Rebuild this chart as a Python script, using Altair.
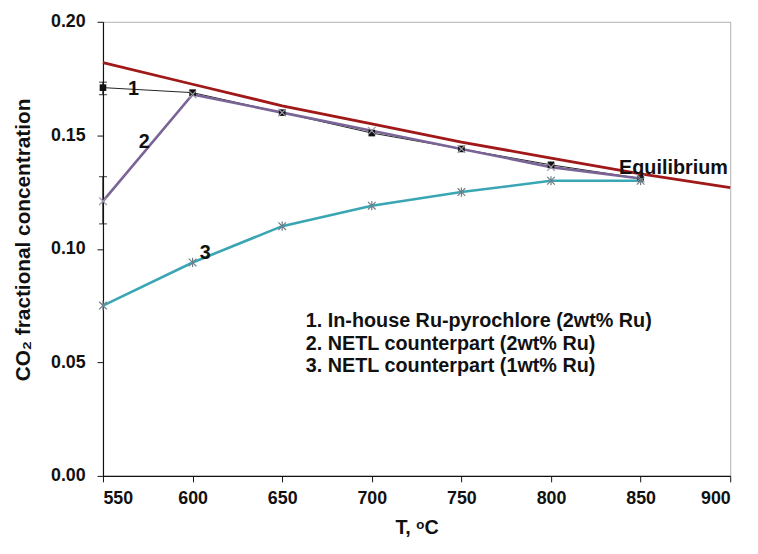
import altair as alt
import pandas as pd

temps = [550, 600, 650, 700, 750, 800, 850]
s1 = [0.171, 0.1688, 0.160, 0.151, 0.144, 0.137, 0.131]
s2 = [0.121, 0.168, 0.160, 0.152, 0.144, 0.136, 0.131]
s3 = [0.075, 0.094, 0.110, 0.119, 0.125, 0.130, 0.130]
eq_t = [550, 600, 650, 700, 750, 800, 850, 900]
eq_v = [0.182, 0.1725, 0.163, 0.155, 0.147, 0.140, 0.133, 0.127]
err_t = [550, 550]
err_lo = [0.1679, 0.111]
err_hi = [0.1734, 0.1318]
legend_lines = ["1. In-house Ru-pyrochlore (2wt% Ru)",
                "2. NETL counterpart (2wt% Ru)",
                "3. NETL counterpart (1wt% Ru)"]
ann_text = ["1", "2", "3", "Equilibrium"]
ann_t = [564, 570, 604, 838]
ann_v = [0.1705, 0.147, 0.098, 0.1355]

FONT = "Liberation Sans, Arial"

d1 = pd.DataFrame({"T": temps, "v": s1})
d2 = pd.DataFrame({"T": temps, "v": s2})
d3 = pd.DataFrame({"T": temps, "v": s3})
deq = pd.DataFrame({"T": eq_t, "v": eq_v})
derr = pd.DataFrame({"T": err_t, "lo": err_lo, "hi": err_hi})
dann = pd.DataFrame({"T": ann_t, "v": ann_v, "t": ann_text})

xs = alt.Scale(domain=[550, 900], nice=False, zero=False)
ys = alt.Scale(domain=[0, 0.2], nice=False)

X = alt.X("T:Q", scale=xs, title="T, ᵒC",
          axis=alt.Axis(values=list(range(550, 901, 50)), format="d"))
Y = alt.Y("v:Q", scale=ys, title="CO₂ fractional concentration",
          axis=alt.Axis(values=[0, 0.05, 0.10, 0.15, 0.20], format=".2f",
                        titleX=-80, titleY=220, titleBaseline="middle", titleAngle=-90))
Xn = alt.X("T:Q", scale=xs)
Yn = alt.Y("v:Q", scale=ys)

XSHAPE = "M-1,-1L1,1M1,-1L-1,1"
STAR = "M-1,-1L1,1M1,-1L-1,1M0,-1.2L0,1.2"

line1 = alt.Chart(d1).mark_line(color="#222222", strokeWidth=1).encode(x=X, y=Y)
pts1 = alt.Chart(d1).mark_point(shape="square", filled=True, size=45, color="#111111", opacity=1).encode(x=Xn, y=Yn)
err = alt.Chart(derr).mark_rule(color="#111111", strokeWidth=1.2).encode(
    x=Xn, y=alt.Y("lo:Q", scale=ys), y2="hi:Q")
caplo = alt.Chart(derr).mark_tick(color="#111111", orient="horizontal", size=8, thickness=1.2).encode(
    x=Xn, y=alt.Y("lo:Q", scale=ys))
caphi = alt.Chart(derr).mark_tick(color="#111111", orient="horizontal", size=8, thickness=1.2).encode(
    x=Xn, y=alt.Y("hi:Q", scale=ys))

line2 = alt.Chart(d2).mark_line(color="#7a6496", strokeWidth=2.6).encode(x=Xn, y=Yn)
pts2 = alt.Chart(d2).mark_point(shape=XSHAPE, filled=False, size=60, color="#9a9aa8", strokeWidth=1.2, opacity=1).encode(x=Xn, y=Yn)

line3 = alt.Chart(d3).mark_line(color="#3aa6b4", strokeWidth=2.6).encode(x=Xn, y=Yn)
pts3 = alt.Chart(d3).mark_point(shape=STAR, filled=False, size=60, color="#6f7f88", strokeWidth=1.2, opacity=1).encode(x=Xn, y=Yn)

lineq = alt.Chart(deq).mark_line(color="#a01818", strokeWidth=2.8).encode(x=Xn, y=Yn)

ann = alt.Chart(dann).mark_text(font=FONT, fontSize=20, fontWeight="bold", color="#111111", align="left", baseline="middle").encode(
    x=Xn, y=Yn, text="t:N")

leg_layers = []
for i, line in enumerate(legend_lines):
    leg_layers.append(
        alt.Chart(pd.DataFrame({"t": [line]})).mark_text(
            font=FONT, fontSize=20, fontWeight="bold", color="#111111", align="left", baseline="middle"
        ).encode(x=alt.value(205), y=alt.value(303 + 22.5 * i), text="t:N")
    )

chart = alt.layer(line1, line2, line3, lineq, err, caplo, caphi, pts1, pts2, pts3, ann, *leg_layers).properties(
    width=634, height=459, autosize="none",
    padding={"left": 96, "top": 11, "right": 20, "bottom": 76},
).configure_view(stroke="#b0b0b0", strokeWidth=1).configure_axis(
    grid=False, domainColor="#111111", tickColor="#111111", domainWidth=1.2,
    labelFont=FONT, labelFontSize=18, labelFontWeight="bold", labelColor="#111111",
    titleFont=FONT, titleFontSize=20, titleFontWeight="bold", titleColor="#111111",
    tickSize=6,
).configure_axisX(labelPadding=8, titlePadding=10).configure_axisY(labelPadding=12, titleFontSize=21)

chart.save("out.html", embed_options={"renderer": "svg", "actions": False})
